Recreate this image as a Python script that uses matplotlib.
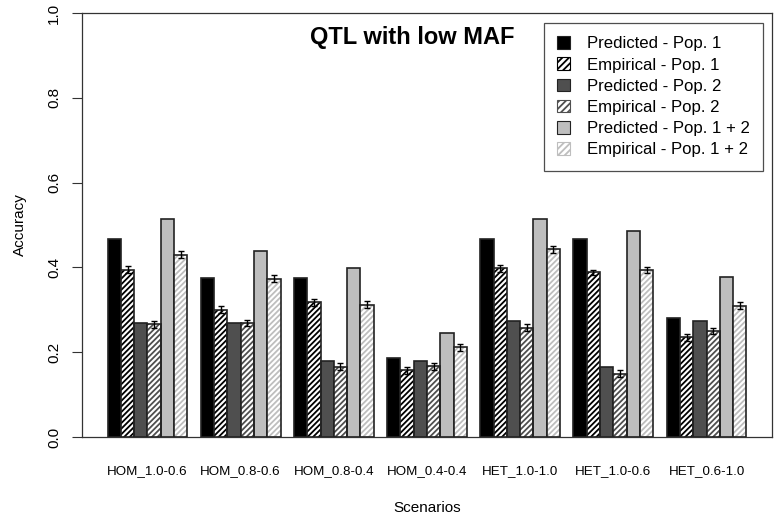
import numpy as np
import matplotlib
matplotlib.use("Agg")
import matplotlib.pyplot as plt
from matplotlib.patches import Patch

plt.rcParams['font.family'] = ['Liberation Sans', 'DejaVu Sans']
plt.rcParams['hatch.linewidth'] = 1.3

scenarios = ["HOM_1.0-0.6", "HOM_0.8-0.6", "HOM_0.8-0.4", "HOM_0.4-0.4",
             "HET_1.0-1.0", "HET_1.0-0.6", "HET_0.6-1.0"]
series = ["Predicted - Pop. 1", "Empirical - Pop. 1", "Predicted - Pop. 2",
          "Empirical - Pop. 2", "Predicted - Pop. 1 + 2", "Empirical - Pop. 1 + 2"]

pred1 = [0.468, 0.375, 0.375, 0.187, 0.468, 0.468, 0.280]
emp1 = [0.395, 0.300, 0.318, 0.157, 0.398, 0.388, 0.235]
pred2 = [0.270, 0.270, 0.180, 0.180, 0.273, 0.165, 0.273]
emp2 = [0.266, 0.268, 0.166, 0.167, 0.258, 0.149, 0.250]
pred12 = [0.515, 0.438, 0.398, 0.245, 0.515, 0.485, 0.378]
emp12 = [0.430, 0.373, 0.312, 0.212, 0.443, 0.394, 0.310]
emp1_err = [0.008, 0.008, 0.008, 0.008, 0.008, 0.007, 0.008]
emp2_err = [0.008, 0.007, 0.009, 0.008, 0.008, 0.008, 0.008]
emp12_err = [0.008, 0.008, 0.008, 0.008, 0.008, 0.007, 0.008]

values = [pred1, emp1, pred2, emp2, pred12, emp12]
errors = [None, emp1_err, None, emp2_err, None, emp12_err]
colors = ["black", "black", "#4f4f4f", "#4f4f4f", "#bebebe", "#bebebe"]
hatched = [False, True, False, True, False, True]

fig = plt.figure(figsize=(7.77, 5.19), dpi=100)
ax = fig.add_axes([82/777, 82/519, 690/777, 424/519])

# R barplot layout: bar width 1, one unit gap between groups
n = len(series)
for j in range(n):
    x = np.array([1 + g*(n+1) + j + 0.5 for g in range(len(scenarios))])
    if hatched[j]:
        ax.bar(x, values[j], width=1, color="white", edgecolor=colors[j],
               hatch="//////", linewidth=0, zorder=2)
        ax.bar(x, values[j], width=1, fill=False, edgecolor="#222222",
               linewidth=1.2, zorder=3)
    else:
        ax.bar(x, values[j], width=1, color=colors[j], edgecolor="#222222",
               linewidth=1.2, zorder=2)
    if errors[j] is not None:
        ax.errorbar(x, values[j], yerr=errors[j], fmt="none", ecolor="black",
                    elinewidth=1, capsize=2.5, capthick=1, zorder=4)

centers = [1 + g*(n+1) + n/2 for g in range(len(scenarios))]
ax.set_xticks(centers)
ax.set_xticklabels(scenarios, fontsize=9.6)
ax.tick_params(axis="x", length=0, pad=20.5)
ax.set_xlim(1 - 48*0.04, 49 + 48*0.04)
ax.set_ylim(0, 1.0)
ax.set_yticks([0.0, 0.2, 0.4, 0.6, 0.8, 1.0])
ax.set_yticklabels(["0.0", "0.2", "0.4", "0.6", "0.8", "1.0"], rotation=90,
                   va="center", fontsize=11)
ax.tick_params(axis="y", length=7.2, width=0.8, pad=8, color="#333333")
for s in ax.spines.values():
    s.set_color("#333333")
    s.set_linewidth(0.9)

ax.set_xlabel("Scenarios", fontsize=11, labelpad=17)
ax.set_ylabel("Accuracy", fontsize=11, labelpad=14)
ax.text(0.478, 0.943, "QTL with low MAF", transform=ax.transAxes, ha="center",
        va="center", fontsize=17, fontweight="bold")

handles = []
for j in range(n):
    if hatched[j]:
        handles.append(Patch(facecolor="white", edgecolor=colors[j],
                             hatch="/////", linewidth=0.8))
    else:
        handles.append(Patch(facecolor=colors[j], edgecolor="#222222",
                             linewidth=0.8))
leg = ax.legend(handles, series, loc="upper right", bbox_to_anchor=(0.9875, 0.977),
                fontsize=12.1, frameon=True, fancybox=False, edgecolor="#222222",
                handlelength=0.78, handleheight=0.78, handletextpad=1.0,
                labelspacing=0.36, borderpad=0.8, borderaxespad=0)
leg.get_frame().set_linewidth(0.9)

fig.savefig("out.png", dpi=100)
